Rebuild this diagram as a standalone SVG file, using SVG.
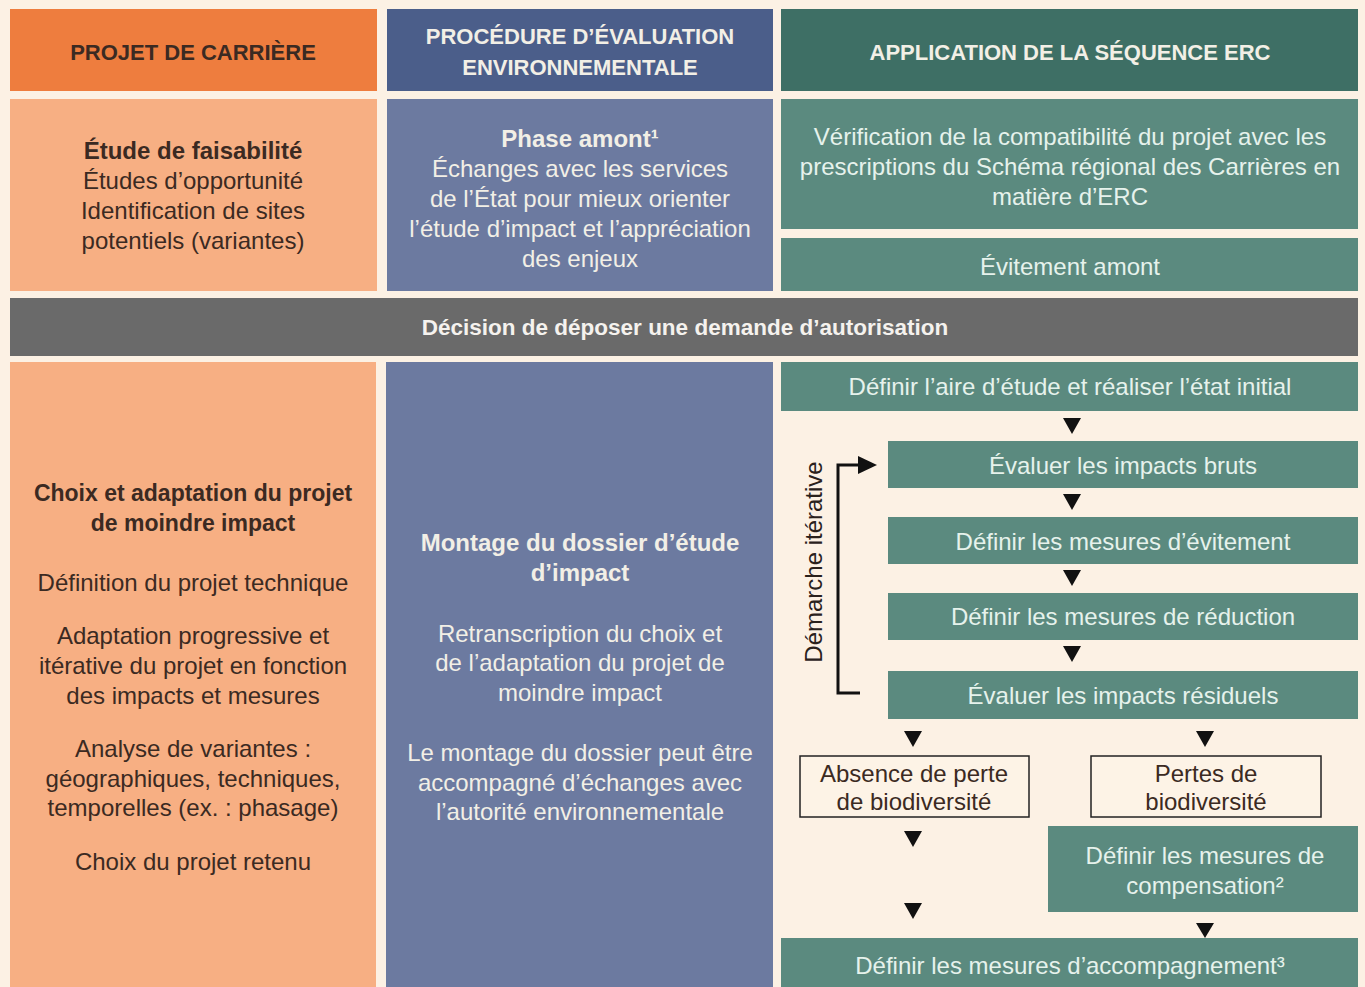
<svg xmlns="http://www.w3.org/2000/svg" width="1365" height="987" viewBox="0 0 1365 987">
<defs>
<style>
.t{font-family:"Liberation Sans",Roboto,sans-serif;font-size:24px;text-anchor:middle}
.b{font-weight:bold}
.dk{fill:#3b2a22}
.lt{fill:#f2efe6}
.lg{fill:#e6f2ec}
.hd{font-size:22px;font-weight:bold}
.og{fill:#ee7d3e}.ol{fill:#f7af83}
.bh{fill:#4b5e8a}.bl{fill:#6c7aa0}
.gh{fill:#3e6f65}.gl{fill:#5b8a7f}
.ar{fill:#111}
.wb{fill:#fdf3e6;stroke:#222;stroke-width:1.5}
</style>
</defs>
<rect width="1365" height="987" fill="#fcf1e4"/>
<g id="h-projet"><rect class="og" x="10" y="9" width="367" height="82"/><text class="t hd dk" x="193" y="60">PROJET DE CARRIÈRE</text></g>
<g id="h-procedure"><rect class="bh" x="387" y="9" width="386" height="82"/><text class="t hd lt" x="580" y="44">PROCÉDURE D’ÉVALUATION</text><text class="t hd lt" x="580" y="75">ENVIRONNEMENTALE</text></g>
<g id="h-erc"><rect class="gh" x="781" y="9" width="577" height="82"/><text class="t hd lt" x="1070" y="60">APPLICATION DE LA SÉQUENCE ERC</text></g>

<g id="n-faisabilite"><rect class="ol" x="10" y="99" width="367" height="192"/>
<text class="t dk" x="193" y="159"><tspan class="b">Étude de faisabilité</tspan><tspan x="193" dy="30">Études d’opportunité</tspan><tspan x="193" dy="30">Identification de sites</tspan><tspan x="193" dy="30">potentiels (variantes)</tspan></text></g>
<g id="n-amont"><rect class="bl" x="387" y="99" width="386" height="192"/>
<text class="t lt" x="580" y="147"><tspan class="b">Phase amont¹</tspan><tspan x="580" dy="30">Échanges avec les services</tspan><tspan x="580" dy="30">de l’État pour mieux orienter</tspan><tspan x="580" dy="30">l’étude d’impact et l’appréciation</tspan><tspan x="580" dy="30">des enjeux</tspan></text></g>
<g id="n-verification"><rect class="gl" x="781" y="99" width="577" height="130"/>
<text class="t lg" x="1070" y="145">Vérification de la compatibilité du projet avec les<tspan x="1070" dy="30">prescriptions du Schéma régional des Carrières en</tspan><tspan x="1070" dy="30">matière d’ERC</tspan></text></g>
<g id="n-evitement-amont"><rect class="gl" x="781" y="238" width="577" height="53"/><text class="t lg" x="1070" y="275">Évitement amont</text></g>

<g id="n-decision"><rect fill="#6a6a6a" x="10" y="298" width="1348" height="58"/><text class="t b" fill="#f5f2ee" style="font-size:22.5px" x="685" y="335">Décision de déposer une demande d’autorisation</text></g>

<g id="n-choix"><rect class="ol" x="10" y="362" width="366" height="630"/>
<text class="t dk" x="193" y="501"><tspan class="b" style="font-size:23px">Choix et adaptation du projet</tspan><tspan class="b" style="font-size:23px" x="193" dy="30">de moindre impact</tspan><tspan x="193" dy="60">Définition du projet technique</tspan><tspan x="193" dy="53">Adaptation progressive et</tspan><tspan x="193" dy="30">itérative du projet en fonction</tspan><tspan x="193" dy="30">des impacts et mesures</tspan><tspan x="193" dy="53">Analyse de variantes :</tspan><tspan x="193" dy="30">géographiques, techniques,</tspan><tspan x="193" dy="29">temporelles (ex. : phasage)</tspan><tspan x="193" dy="54">Choix du projet retenu</tspan></text></g>
<g id="n-montage"><rect class="bl" x="386" y="362" width="387" height="630"/>
<text class="t lt" x="580" y="551"><tspan class="b">Montage du dossier d’étude</tspan><tspan class="b" x="580" dy="30">d’impact</tspan><tspan x="580" dy="61">Retranscription du choix et</tspan><tspan x="580" dy="29">de l’adaptation du projet de</tspan><tspan x="580" dy="30">moindre impact</tspan><tspan x="580" dy="60">Le montage du dossier peut être</tspan><tspan x="580" dy="30">accompagné d’échanges avec</tspan><tspan x="580" dy="29">l’autorité environnementale</tspan></text></g>

<g id="n-etat-initial"><rect class="gl" x="781" y="362" width="577" height="49"/><text class="t lg" x="1070" y="395">Définir l’aire d’étude et réaliser l’état initial</text></g>
<g id="n-impacts-bruts"><rect class="gl" x="888" y="441" width="470" height="47"/><text class="t lg" x="1123" y="474">Évaluer les impacts bruts</text></g>
<g id="n-evitement"><rect class="gl" x="888" y="517" width="470" height="47"/><text class="t lg" x="1123" y="550">Définir les mesures d’évitement</text></g>
<g id="n-reduction"><rect class="gl" x="888" y="593" width="470" height="47"/><text class="t lg" x="1123" y="625">Définir les mesures de réduction</text></g>
<g id="n-residuels"><rect class="gl" x="888" y="671" width="470" height="48"/><text class="t lg" x="1123" y="704">Évaluer les impacts résiduels</text></g>
<g id="n-iterative"><text font-family="'Liberation Sans',Roboto,sans-serif" font-size="24" fill="#2a211c" text-anchor="middle" transform="translate(822 562) rotate(-90)">Démarche itérative</text></g>
<g id="n-absence"><rect class="wb" x="800" y="756" width="229" height="61"/><text class="t dk" x="914" y="782">Absence de perte<tspan x="914" dy="28">de biodiversité</tspan></text></g>
<g id="n-pertes"><rect class="wb" x="1091" y="756" width="230" height="61"/><text class="t dk" x="1206" y="782">Pertes de<tspan x="1206" dy="28">biodiversité</tspan></text></g>
<g id="n-compensation"><rect class="gl" x="1048" y="826" width="310" height="86"/><text class="t lg" x="1205" y="864">Définir les mesures de<tspan x="1205" dy="30">compensation²</tspan></text></g>
<g id="n-accompagnement"><rect class="gl" x="781" y="938" width="577" height="55"/><text class="t lg" x="1070" y="974">Définir les mesures d’accompagnement³</text></g>

<g id="connectors">
<polygon class="ar" points="1063,418 1081,418 1072,434"/>
<polygon class="ar" points="1063,494 1081,494 1072,510"/>
<polygon class="ar" points="1063,570 1081,570 1072,586"/>
<polygon class="ar" points="1063,646 1081,646 1072,662"/>
<polygon class="ar" points="904,731 922,731 913,747"/>
<polygon class="ar" points="1196,731 1214,731 1205,747"/>
<polygon class="ar" points="904,831 922,831 913,847"/>
<polygon class="ar" points="904,903 922,903 913,919"/>
<polygon class="ar" points="1196,923 1214,923 1205,938"/>
<path d="M860,465 H838 V693 H860" fill="none" stroke="#111" stroke-width="3"/>
<polygon class="ar" points="858,456 877,465 858,474"/>
</g>
</svg>
